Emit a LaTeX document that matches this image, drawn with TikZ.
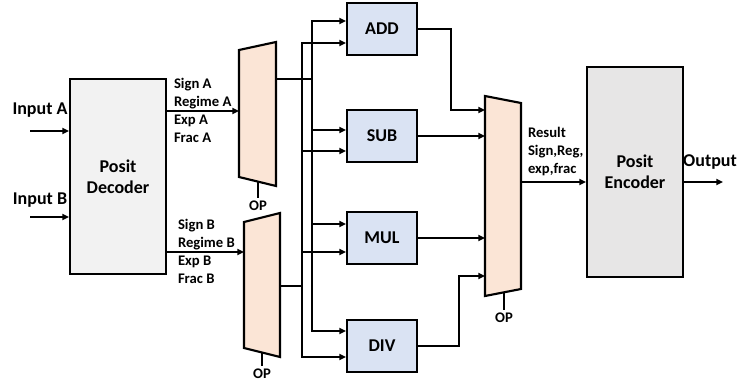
\documentclass[tikz,border=0pt]{standalone}
\usepackage{fontspec}
\setmainfont{Carlito}
\usetikzlibrary{arrows.meta,calc}

\definecolor{decfill}{RGB}{242,242,242}
\definecolor{encfill}{RGB}{231,230,230}
\definecolor{opfill}{RGB}{218,227,243}
\definecolor{muxfill}{RGB}{251,229,214}

\tikzset{every picture/.style={line width=1.5pt},
  arr/.style={-{Triangle[length=5pt,width=4.5pt]}},
  opbox/.style={draw,fill=opfill,minimum width=52.5pt,minimum height=39pt,font=\bfseries\fontsize{13.5}{15}\selectfont},
  coder/.style={draw,align=center,minimum width=72pt,font=\bfseries\fontsize{13.5}{16}\selectfont},
  sig/.style={align=left,anchor=west,inner sep=0.75pt,font=\bfseries\fontsize{11}{13.7}\selectfont},
  lbl/.style={inner sep=0.75pt,font=\bfseries\fontsize{13.5}{15}\selectfont},
  oplbl/.style={inner sep=0.75pt,font=\bfseries\fontsize{11}{12}\selectfont}}

\begin{document}
\begin{tikzpicture}[x=0.75pt,y=0.75pt,yscale=-1,xscale=1]
\useasboundingbox (0,0) rectangle (737,389);

%Decoder and encoder
\node[coder,fill=decfill,minimum height=146.25pt] (dec) at (118,176.5) {Posit\\Decoder};
\node[coder,fill=encfill,minimum height=157.5pt] (enc) at (635,172) {Posit\\Encoder};

%Operation blocks
\node[opbox] (add) at (382,29) {ADD};
\node[opbox] (sub) at (382,136) {SUB};
\node[opbox] (mul) at (382,237.5) {MUL};
\node[opbox] (div) at (382,346) {DIV};

%Shape: Mux A
\draw[fill=muxfill,line width=1.6pt] (239,50) -- (276,42) -- (276,186) -- (239,177) -- cycle;
%Shape: Mux B
\draw[fill=muxfill,line width=1.6pt] (244,222) -- (280,213) -- (280,357) -- (244,348) -- cycle;
%Shape: Result mux
\draw[fill=muxfill,line width=1.6pt] (485,96) -- (521,103) -- (521,289) -- (485,296) -- cycle;

\coordinate (inA) at (30,131);
\coordinate (inB) at (30,217);
\coordinate (muxAin) at (239,111);
\coordinate (muxBin) at (244,252);
\coordinate (muxAout) at (276,79);
\coordinate (muxBout) at (280,286);
\coordinate (busA) at (312,79);
\coordinate (busB) at (302,286);
\coordinate (rin1) at (485,110);
\coordinate (rin2) at (485,136);
\coordinate (rin3) at (485,238);
\coordinate (rin4) at (485,276);
\coordinate (rout) at (521,182);
\coordinate (out) at (723,182);

%Inputs
\draw[arr] (inA) -- (dec.west |- inA);
\draw[arr] (inB) -- (dec.west |- inB);
\draw[arr] (dec.east |- muxAin) -- (muxAin);
\draw[arr] (dec.east |- muxBin) -- (muxBin);

%Buses to the blocks
\draw (muxAout) -- (busA);
\draw (muxBout) -- (busB);
\foreach \b/\ya/\yb in {add/21/43, sub/130/151, mul/224/252, div/331/357}{
  \draw[arr] (busA) |- (\b.west |- 0,\ya);
  \draw[arr] (busB) |- (\b.west |- 0,\yb);
}

%Blocks to result mux
\draw[arr] (add.east) -- ++(33,0) |- (rin1);
\draw[arr] (sub.east |- rin2) -- (rin2);
\draw[arr] (mul.east |- rin3) -- (rin3);
\draw[arr] (div.east) -- ++(41,0) |- (rin4);
\draw[arr] (rout) -- (enc.west |- rout);
\draw[arr] (enc.east |- out) -- (out);

%OP select lines
\draw (258,182) -- (258,198) node[oplbl,below=1pt] (opA) {OP};
\draw (262,352) -- (262,366) node[oplbl,below=1pt] (opB) {OP};
\draw (504,292) -- (504,310) node[oplbl,below=1pt] (opR) {OP};

% Text Node
\node[lbl] (lblA) at (40,110) {Input A};
% Text Node
\node[lbl] (lblB) at (40,200) {Input B};
% Text Node
\node[lbl] (lblOut) at (710,162) {Output};
% Text Node
\node[sig] (sigA) at (172,110.5) {Sign A\\Regime A\\Exp A\\Frac A};
% Text Node
\node[sig] (sigB) at (176,251.5) {Sign B\\Regime B\\Exp B\\Frac B};
% Text Node
\node[sig] (res) at (526,151.5) {Result\\Sign,Reg,\\exp,frac};

\end{tikzpicture}
\end{document}
